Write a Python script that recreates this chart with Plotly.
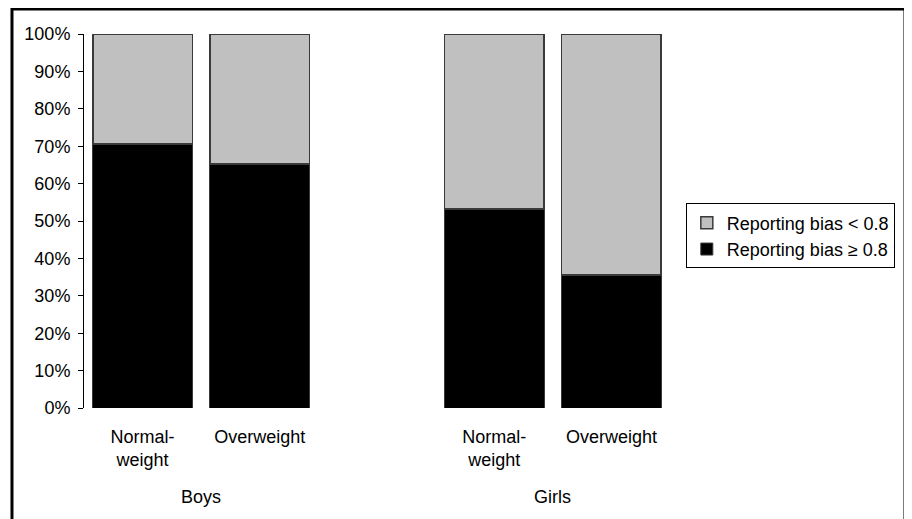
import plotly.graph_objects as go

# Data
positions = [0, 1, 3, 4]
categories = ["Normal-<br>weight", "Overweight", "Normal-<br>weight", "Overweight"]
groups = ["Boys", "Girls"]
group_centers = [0.5, 3.5]
bias_high = [70.6, 65.2, 53.2, 35.6]          # Reporting bias >= 0.8 (%)
bias_low = [100 - v for v in bias_high]       # Reporting bias < 0.8 (%)
y_ticks = list(range(0, 101, 10))
y_ticktext = [f"{v}%" for v in y_ticks]

FONT = "Liberation Sans, Arial, sans-serif"
FS = 18

fig = go.Figure()
fig.add_trace(go.Bar(
    x=positions, y=bias_high, name="Reporting bias \u2265 0.8",
    marker=dict(color="#000000", line=dict(color="#3a3a3a", width=1)),
    width=0.85,
))
fig.add_trace(go.Bar(
    x=positions, y=bias_low, name="Reporting bias < 0.8",
    marker=dict(color="#c0c0c0", line=dict(color="#3a3a3a", width=1.5)),
    width=0.85,
))

fig.update_layout(
    width=912, height=519,
    barmode="stack",
    margin=dict(l=76, r=250, t=26, b=119),
    paper_bgcolor="white", plot_bgcolor="white",
    font=dict(family=FONT, size=FS, color="#000000"),
    showlegend=True,
    legend=dict(
        x=1.027, y=0.46, xanchor="left", yanchor="middle",
        traceorder="reversed",
        bordercolor="#000000", borderwidth=1,
        font=dict(family=FONT, size=FS, color="#000000"),
        itemwidth=30, tracegroupgap=0,
    ),
    xaxis=dict(
        range=[-0.5, 4.5], tickmode="array", tickvals=positions, ticktext=categories,
        showline=False, showgrid=False, zeroline=False, ticks="",
        tickfont=dict(family=FONT, size=FS, color="#000000"),
        tickangle=0, ticklabelstandoff=16,
    ),
    yaxis=dict(
        range=[0, 100], tickmode="array", tickvals=y_ticks, ticktext=y_ticktext,
        showline=True, linecolor="#000000", linewidth=1,
        ticks="outside", ticklen=5, tickcolor="#000000",
        showgrid=False, zeroline=False, ticklabelstandoff=4,
        tickfont=dict(family=FONT, size=FS, color="#000000"),
    ),
)

for g, c in zip(groups, group_centers):
    fig.add_annotation(
        x=c, xref="x", y=-0.238, yref="paper", text=g, showarrow=False,
        xanchor="center", yanchor="middle",
        font=dict(family=FONT, size=FS, color="#000000"),
    )

# Outer frame of the chart area
fig.add_shape(
    type="rect", xref="paper", yref="paper",
    x0=-0.1229, x1=1.401, y0=-0.33, y1=1.067,
    line=dict(color="#000000", width=3), fillcolor="rgba(0,0,0,0)",
    layer="below",
)

fig.write_html("out.html")
